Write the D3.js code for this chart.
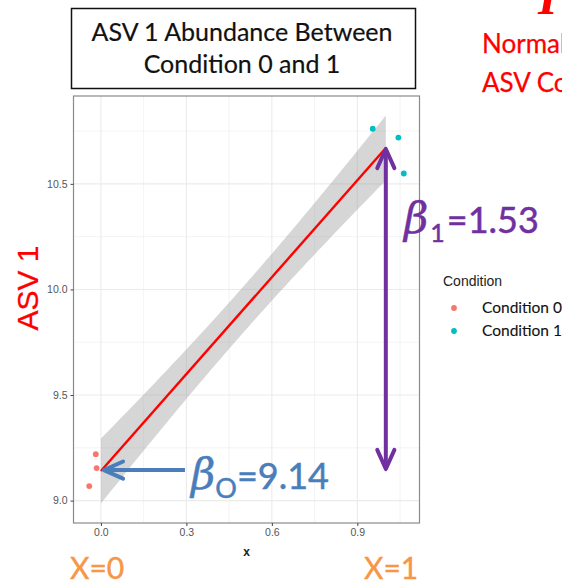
<!DOCTYPE html>
<html>
<head>
<meta charset="utf-8">
<script src="https://cdn.jsdelivr.net/npm/d3@7"></script>
<style>
  body { margin: 0; background: #fff; overflow: hidden; }
  svg { display: block; }
</style>
</head>
<body>
<svg id="chart" width="562" height="585"></svg>
<script>
// ---- data ----
const groups = ["Condition 0", "Condition 1"];
const groupColors = ["#F8766D", "#00BFC4"];
const groupX = [0, 1];
// jittered x positions and abundance values of the samples
const cond0X = [-0.018, -0.015, -0.041];
const cond0Y = [9.22, 9.154, 9.069];
const cond1X = [0.954, 1.044, 1.063];
const cond1Y = [10.761, 10.719, 10.549];
// fitted coefficients
const beta0 = 9.14;
const beta1 = 1.53;
const tCrit = 2.776; // qt(0.975, df = 4)
const xTicks = [0, 0.3, 0.6, 0.9];
const yTicks = [9.0, 9.5, 10.0, 10.5];
const xMinor = [0.15, 0.45, 0.75, 1.05];
const yMinor = [9.25, 9.75, 10.25, 10.75];

const svg = d3.select("#chart");
const panel = { left: 73.5, right: 419.5, top: 96, bottom: 523 };

// ---- regression band (lm on the un-jittered group x) ----
const pts = [
  ...cond0X.map((x, i) => ({ x, y: cond0Y[i], gx: groupX[0], g: 0 })),
  ...cond1X.map((x, i) => ({ x, y: cond1Y[i], gx: groupX[1], g: 1 }))
];
const n = pts.length;
const xbar = d3.mean(pts, d => d.gx);
const sxx = d3.sum(pts, d => (d.gx - xbar) ** 2);
const rss = d3.sum(pts, d => (d.y - (beta0 + beta1 * d.gx)) ** 2);
const s = Math.sqrt(rss / (n - 2));
const fit = x => beta0 + beta1 * x;
const se = x => s * Math.sqrt(1 / n + (x - xbar) ** 2 / sxx);
const bandX = d3.range(0, 80).map(i => i / 79);
const band = bandX.map(x => ({ x, lo: fit(x) - tCrit * se(x), hi: fit(x) + tCrit * se(x) }));

// ---- scales with 5% expansion ----
const xr = d3.extent(pts, d => d.x);
const yr = [Math.min(d3.min(pts, d => d.y), d3.min(band, d => d.lo)),
            Math.max(d3.max(pts, d => d.y), d3.max(band, d => d.hi))];
const ex = (xr[1] - xr[0]) * 0.05, ey = (yr[1] - yr[0]) * 0.05;
const x = d3.scaleLinear().domain([xr[0] - ex, xr[1] + ex]).range([panel.left, panel.right]);
const y = d3.scaleLinear().domain([yr[0] - ey, yr[1] + ey]).range([panel.bottom, panel.top]);

// ---- panel background & grid ----
svg.append("rect").attr("x", panel.left).attr("y", panel.top)
  .attr("width", panel.right - panel.left).attr("height", panel.bottom - panel.top)
  .attr("fill", "#fff");
const grid = svg.append("g").attr("stroke", "#ebebeb");
grid.selectAll(".vmin").data(xMinor).join("line")
  .attr("x1", d => x(d)).attr("x2", d => x(d)).attr("y1", panel.top).attr("y2", panel.bottom)
  .attr("stroke-width", 0.6);
grid.selectAll(".hmin").data(yMinor).join("line")
  .attr("y1", d => y(d)).attr("y2", d => y(d)).attr("x1", panel.left).attr("x2", panel.right)
  .attr("stroke-width", 0.6);
grid.selectAll(".vmaj").data(xTicks).join("line")
  .attr("x1", d => x(d)).attr("x2", d => x(d)).attr("y1", panel.top).attr("y2", panel.bottom)
  .attr("stroke-width", 1.1);
grid.selectAll(".hmaj").data(yTicks).join("line")
  .attr("y1", d => y(d)).attr("y2", d => y(d)).attr("x1", panel.left).attr("x2", panel.right)
  .attr("stroke-width", 1.1);

// ---- confidence band & fitted line ----
svg.append("path").datum(band)
  .attr("d", d3.area().x(d => x(d.x)).y0(d => y(d.lo)).y1(d => y(d.hi)))
  .attr("fill", "#999999").attr("fill-opacity", 0.4);
svg.append("line")
  .attr("x1", x(0)).attr("y1", y(fit(0))).attr("x2", x(1)).attr("y2", y(fit(1)))
  .attr("stroke", "#ff0000").attr("stroke-width", 2.4);

// ---- points ----
svg.append("g").selectAll("circle").data(pts).join("circle")
  .attr("cx", d => x(d.x)).attr("cy", d => y(d.y)).attr("r", 2.9)
  .attr("fill", d => groupColors[d.g]);

// ---- panel border ----
svg.append("rect").attr("x", panel.left).attr("y", panel.top)
  .attr("width", panel.right - panel.left).attr("height", panel.bottom - panel.top)
  .attr("fill", "none").attr("stroke", "#8a8a8a").attr("stroke-width", 1.2);

// ---- axes ----
const axFont = "'Liberation Sans', Arial, sans-serif";
const xAxis = svg.append("g").attr("transform", `translate(0,${panel.bottom})`)
  .call(d3.axisBottom(x).tickValues(xTicks).tickFormat(d3.format(".1f")).tickSize(3).tickPadding(3));
const yAxis = svg.append("g").attr("transform", `translate(${panel.left},0)`)
  .call(d3.axisLeft(y).tickValues(yTicks).tickFormat(d3.format(".1f")).tickSize(3).tickPadding(3));
[xAxis, yAxis].forEach(a => {
  a.select(".domain").remove();
  a.selectAll(".tick line").attr("stroke", "#444").attr("stroke-width", 1);
  a.selectAll(".tick text").attr("fill", "#555").style("font-family", axFont).style("font-size", "10.5px");
});
svg.append("text").attr("x", (panel.left + panel.right) / 2).attr("y", 556)
  .attr("text-anchor", "middle").style("font-family", axFont).style("font-size", "12px")
  .style("font-weight", "bold").attr("fill", "#222").text("x");
svg.append("text").attr("transform", `translate(38,288) rotate(-90)`)
  .attr("text-anchor", "middle").style("font-family", axFont).style("font-size", "30px")
  .attr("fill", "#ff0000").attr("stroke", "#ff0000").attr("stroke-width", 0.3).text("ASV 1");

// ---- title box ----
svg.append("rect").attr("x", 71.5).attr("y", 8.5).attr("width", 344).attr("height", 80)
  .attr("fill", "#fff").attr("stroke", "#111").attr("stroke-width", 1.5);
const titleFont = "Lato, 'Open Sans', sans-serif";
[["ASV 1 Abundance Between", 41], ["Condition 0 and 1", 73]].forEach(([t, yy]) => {
  svg.append("text").attr("x", 242).attr("y", yy).attr("text-anchor", "middle")
    .style("font-family", titleFont).style("font-size", "25px").attr("fill", "#111")
    .attr("stroke", "#111").attr("stroke-width", 0.2).text(t);
});

// ---- legend ----
const lg = svg.append("g");
lg.append("text").attr("x", 443).attr("y", 286).style("font-family", axFont)
  .style("font-size", "14px").attr("fill", "#222").text("Condition");
groups.forEach((g, i) => {
  lg.append("circle").attr("cx", 454).attr("cy", 308 + i * 23).attr("r", 2.9).attr("fill", groupColors[i]);
  lg.append("text").attr("x", 482).attr("y", 313 + i * 23).style("font-family", "Lato, sans-serif")
    .style("font-size", "15.5px").attr("fill", "#111").attr("stroke", "#111").attr("stroke-width", 0.1)
    .text(g);
});

// ---- annotations ----
const purple = "#7030a0", blue = "#4a7ebb", orange = "#f79646";
function arrowHead(g, tx, ty, angle, color) {
  // open chevron pointing along angle (radians)
  const len = 21, spread = 0.42;
  const a1 = angle + Math.PI - spread, a2 = angle + Math.PI + spread;
  g.append("path")
    .attr("d", `M${tx + len * Math.cos(a1)},${ty + len * Math.sin(a1)} L${tx},${ty} L${tx + len * Math.cos(a2)},${ty + len * Math.sin(a2)}`)
    .attr("fill", "none").attr("stroke", color).attr("stroke-width", 4)
    .attr("stroke-linecap", "round").attr("stroke-linejoin", "round");
}
const ann = svg.append("g");
// beta1 : vertical double arrow at x = 1 from intercept to fitted value
const ax1 = x(1), ay0 = y(beta0) - 2, ay1 = y(beta0 + beta1) + 1;
ann.append("line").attr("x1", ax1).attr("x2", ax1).attr("y1", ay0 - 2).attr("y2", ay1 + 2)
  .attr("stroke", purple).attr("stroke-width", 4);
arrowHead(ann, ax1, ay1, -Math.PI / 2, purple);
arrowHead(ann, ax1, ay0, Math.PI / 2, purple);
// beta0 : horizontal arrow pointing at the intercept
const by = y(beta0) - 1;
ann.append("line").attr("x1", x(0.295)).attr("x2", x(0) + 4).attr("y1", by).attr("y2", by)
  .attr("stroke", blue).attr("stroke-width", 4);
arrowHead(ann, x(0) + 3, by, Math.PI, blue);

const betaFont = "'DejaVu Serif', 'Liberation Serif', serif";
const numFont = "Lato, 'Open Sans', sans-serif";
const b1 = ann.append("text").attr("x", 404).attr("y", 233).attr("fill", purple)
  .attr("stroke", purple).attr("stroke-width", 0.5);
b1.append("tspan").style("font-family", betaFont).style("font-style", "italic").style("font-size", "42px").text("β");
b1.append("tspan").attr("dx", 2).attr("dy", 9).style("font-family", numFont).style("font-size", "25px").text("1");
b1.append("tspan").attr("dx", 2).attr("dy", -9).style("font-family", numFont).style("font-size", "36px").text("=" + beta1.toFixed(2));

const b0 = ann.append("text").attr("x", 191).attr("y", 489).attr("fill", blue)
  .attr("stroke", blue).attr("stroke-width", 0.5);
b0.append("tspan").style("font-family", betaFont).style("font-style", "italic").style("font-size", "42px").text("β");
b0.append("tspan").attr("dy", 9).style("font-family", numFont).style("font-size", "27px").text("O");
b0.append("tspan").attr("dy", -9).style("font-family", numFont).style("font-size", "36px").text("=" + beta0.toFixed(2));

ann.append("text").attr("x", 70).attr("y", 579).attr("fill", orange).attr("stroke", orange).attr("stroke-width", 0.4)
  .style("font-family", numFont).style("font-size", "30px").text("X=0");
ann.append("text").attr("x", 364).attr("y", 579).attr("fill", orange).attr("stroke", orange).attr("stroke-width", 0.4)
  .style("font-family", numFont).style("font-size", "30px").text("X=1");

// ---- slide text at the right ----
const slide = svg.append("g").attr("fill", "#ff0000");
slide.append("text").attr("x", 538).attr("y", 14).style("font-family", "'Liberation Serif', serif")
  .style("font-weight", "bold").style("font-style", "italic").style("font-size", "50px").text("I");
slide.append("text").attr("x", 482).attr("y", 53).style("font-family", numFont)
  .attr("stroke", "#ff0000").attr("stroke-width", 0.25)
  .style("font-size", "26px").text("Normalized");
slide.append("text").attr("x", 482).attr("y", 92).style("font-family", numFont)
  .attr("stroke", "#ff0000").attr("stroke-width", 0.25)
  .style("font-size", "26px").text("ASV Counts");
</script>
</body>
</html>
